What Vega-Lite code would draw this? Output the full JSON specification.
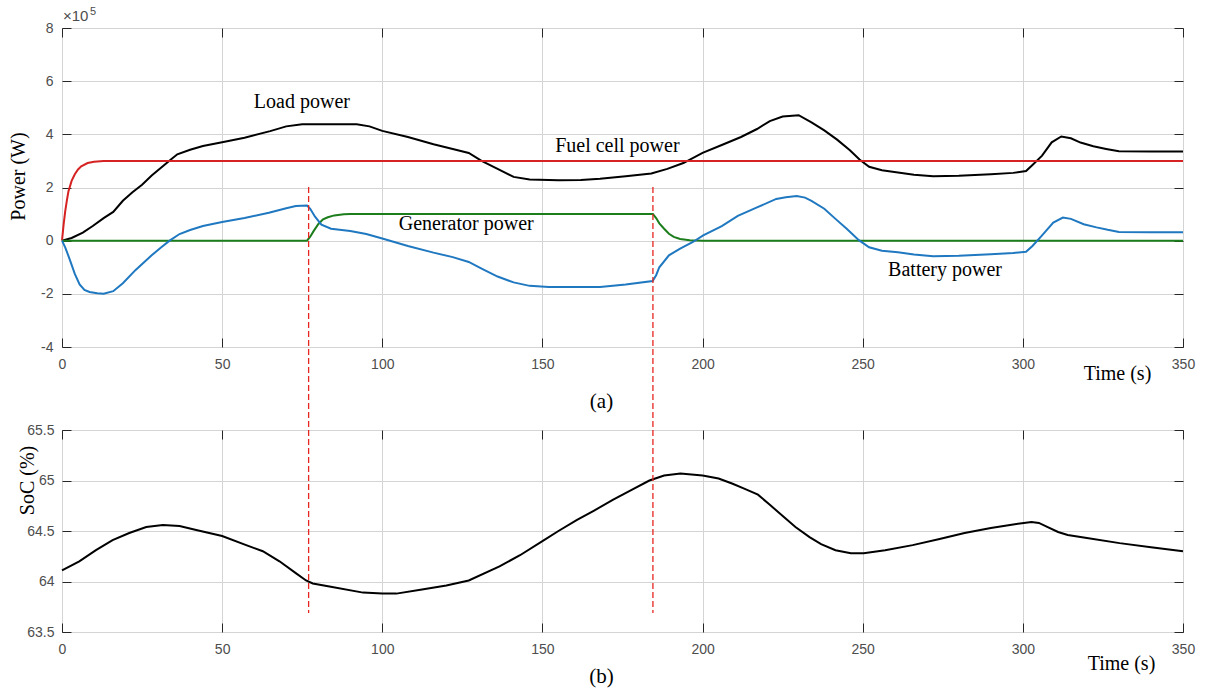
{
  "$schema": "https://vega.github.io/schema/vega-lite/v6.json",
  "padding": {"left": 7, "top": 5, "right": 6, "bottom": 2},
  "background": "white",
  "config": {
    "view": {"stroke": "#262626", "strokeWidth": 1},
    "axis": {
      "domain": false,
      "labelFlush": false,
      "gridColor": "#d4d4d4",
      "gridWidth": 1,
      "tickColor": "#262626",
      "tickWidth": 1,
      "tickSize": -9,
      "labelFont": "Liberation Sans",
      "labelFontSize": 14,
      "labelColor": "#4d4d4d",
      "titleFont": "Liberation Serif",
      "titleFontSize": 20,
      "titleFontWeight": "normal",
      "titleColor": "#000000"
    }
  },
  "datasets": {
    "power": [
      {"s": "Load", "t": 0, "p": 0}, {"s": "Load", "t": 3, "p": 10000}, {"s": "Load", "t": 6.5, "p": 30000}, {"s": "Load", "t": 9.6, "p": 55000}, {"s": "Load", "t": 13, "p": 85000}, {"s": "Load", "t": 16, "p": 108000}, {"s": "Load", "t": 19, "p": 150000}, {"s": "Load", "t": 22, "p": 182000}, {"s": "Load", "t": 25, "p": 210000}, {"s": "Load", "t": 28, "p": 245000}, {"s": "Load", "t": 31, "p": 275000}, {"s": "Load", "t": 34, "p": 305000}, {"s": "Load", "t": 36, "p": 325000}, {"s": "Load", "t": 40, "p": 342000}, {"s": "Load", "t": 44, "p": 356000}, {"s": "Load", "t": 50, "p": 370000}, {"s": "Load", "t": 57, "p": 387000}, {"s": "Load", "t": 65, "p": 412000}, {"s": "Load", "t": 70, "p": 430000}, {"s": "Load", "t": 75, "p": 438000}, {"s": "Load", "t": 80, "p": 438000}, {"s": "Load", "t": 92, "p": 438000}, {"s": "Load", "t": 96, "p": 430000}, {"s": "Load", "t": 100, "p": 413000}, {"s": "Load", "t": 108, "p": 390000}, {"s": "Load", "t": 116, "p": 363000}, {"s": "Load", "t": 122, "p": 345000}, {"s": "Load", "t": 127, "p": 330000}, {"s": "Load", "t": 131, "p": 300000}, {"s": "Load", "t": 136, "p": 270000}, {"s": "Load", "t": 141, "p": 240000}, {"s": "Load", "t": 146, "p": 230000}, {"s": "Load", "t": 155, "p": 227000}, {"s": "Load", "t": 162, "p": 228000}, {"s": "Load", "t": 168, "p": 233000}, {"s": "Load", "t": 176, "p": 242000}, {"s": "Load", "t": 184, "p": 253000}, {"s": "Load", "t": 189, "p": 270000}, {"s": "Load", "t": 194, "p": 292000}, {"s": "Load", "t": 200, "p": 330000}, {"s": "Load", "t": 206, "p": 360000}, {"s": "Load", "t": 212, "p": 390000}, {"s": "Load", "t": 217, "p": 420000}, {"s": "Load", "t": 221, "p": 450000}, {"s": "Load", "t": 225, "p": 467000}, {"s": "Load", "t": 230, "p": 472000}, {"s": "Load", "t": 234, "p": 445000}, {"s": "Load", "t": 238, "p": 415000}, {"s": "Load", "t": 242, "p": 380000}, {"s": "Load", "t": 246, "p": 340000}, {"s": "Load", "t": 249, "p": 305000}, {"s": "Load", "t": 252, "p": 278000}, {"s": "Load", "t": 256, "p": 265000}, {"s": "Load", "t": 261, "p": 256000}, {"s": "Load", "t": 266, "p": 248000}, {"s": "Load", "t": 272, "p": 242000}, {"s": "Load", "t": 280, "p": 244000}, {"s": "Load", "t": 290, "p": 250000}, {"s": "Load", "t": 297, "p": 255000}, {"s": "Load", "t": 301, "p": 262000}, {"s": "Load", "t": 303, "p": 285000}, {"s": "Load", "t": 306, "p": 320000}, {"s": "Load", "t": 309, "p": 370000}, {"s": "Load", "t": 312, "p": 392000}, {"s": "Load", "t": 315, "p": 385000}, {"s": "Load", "t": 318, "p": 369000}, {"s": "Load", "t": 322, "p": 355000}, {"s": "Load", "t": 326, "p": 345000}, {"s": "Load", "t": 330, "p": 336000}, {"s": "Load", "t": 340, "p": 335000}, {"s": "Load", "t": 350, "p": 335000},
      {"s": "Fuel cell", "t": 0, "p": 0}, {"s": "Fuel cell", "t": 0.5, "p": 60000}, {"s": "Fuel cell", "t": 1, "p": 110000}, {"s": "Fuel cell", "t": 1.5, "p": 150000}, {"s": "Fuel cell", "t": 2, "p": 185000}, {"s": "Fuel cell", "t": 3, "p": 225000}, {"s": "Fuel cell", "t": 4, "p": 250000}, {"s": "Fuel cell", "t": 5, "p": 268000}, {"s": "Fuel cell", "t": 6, "p": 280000}, {"s": "Fuel cell", "t": 8, "p": 292000}, {"s": "Fuel cell", "t": 10, "p": 297000}, {"s": "Fuel cell", "t": 13, "p": 300000}, {"s": "Fuel cell", "t": 350, "p": 300000},
      {"s": "Generator", "t": 0, "p": 0}, {"s": "Generator", "t": 76.5, "p": 0}, {"s": "Generator", "t": 77.5, "p": 15000}, {"s": "Generator", "t": 78.5, "p": 35000}, {"s": "Generator", "t": 80, "p": 62000}, {"s": "Generator", "t": 81.5, "p": 80000}, {"s": "Generator", "t": 83, "p": 88000}, {"s": "Generator", "t": 85, "p": 95000}, {"s": "Generator", "t": 88, "p": 99000}, {"s": "Generator", "t": 90, "p": 100000}, {"s": "Generator", "t": 184.5, "p": 100000}, {"s": "Generator", "t": 185.5, "p": 85000}, {"s": "Generator", "t": 186.5, "p": 65000}, {"s": "Generator", "t": 188, "p": 45000}, {"s": "Generator", "t": 189.5, "p": 26000}, {"s": "Generator", "t": 191, "p": 14000}, {"s": "Generator", "t": 193, "p": 6000}, {"s": "Generator", "t": 196, "p": 2000}, {"s": "Generator", "t": 200, "p": 0}, {"s": "Generator", "t": 350, "p": 0},
      {"s": "Battery", "t": 0, "p": 0}, {"s": "Battery", "t": 1, "p": -25000}, {"s": "Battery", "t": 2.4, "p": -70000}, {"s": "Battery", "t": 4, "p": -125000}, {"s": "Battery", "t": 5.5, "p": -165000}, {"s": "Battery", "t": 7, "p": -185000}, {"s": "Battery", "t": 8.6, "p": -193000}, {"s": "Battery", "t": 11, "p": -198000}, {"s": "Battery", "t": 13, "p": -200000}, {"s": "Battery", "t": 16, "p": -190000}, {"s": "Battery", "t": 19, "p": -160000}, {"s": "Battery", "t": 23, "p": -110000}, {"s": "Battery", "t": 28, "p": -55000}, {"s": "Battery", "t": 31, "p": -25000}, {"s": "Battery", "t": 33.6, "p": 0}, {"s": "Battery", "t": 36.7, "p": 25000}, {"s": "Battery", "t": 40, "p": 40000}, {"s": "Battery", "t": 44, "p": 55000}, {"s": "Battery", "t": 50, "p": 70000}, {"s": "Battery", "t": 57, "p": 85000}, {"s": "Battery", "t": 64.6, "p": 105000}, {"s": "Battery", "t": 70, "p": 122000}, {"s": "Battery", "t": 73, "p": 130000}, {"s": "Battery", "t": 76.5, "p": 132000}, {"s": "Battery", "t": 77.5, "p": 120000}, {"s": "Battery", "t": 79, "p": 90000}, {"s": "Battery", "t": 81, "p": 60000}, {"s": "Battery", "t": 84, "p": 45000}, {"s": "Battery", "t": 90, "p": 36000}, {"s": "Battery", "t": 95, "p": 25000}, {"s": "Battery", "t": 100, "p": 8000}, {"s": "Battery", "t": 108, "p": -20000}, {"s": "Battery", "t": 116, "p": -45000}, {"s": "Battery", "t": 122, "p": -62000}, {"s": "Battery", "t": 127, "p": -80000}, {"s": "Battery", "t": 131, "p": -105000}, {"s": "Battery", "t": 136, "p": -135000}, {"s": "Battery", "t": 141, "p": -157000}, {"s": "Battery", "t": 146, "p": -170000}, {"s": "Battery", "t": 152, "p": -174000}, {"s": "Battery", "t": 160, "p": -174000}, {"s": "Battery", "t": 168, "p": -174000}, {"s": "Battery", "t": 176, "p": -165000}, {"s": "Battery", "t": 184.4, "p": -152000}, {"s": "Battery", "t": 185.5, "p": -130000}, {"s": "Battery", "t": 186.5, "p": -100000}, {"s": "Battery", "t": 189.5, "p": -55000}, {"s": "Battery", "t": 193, "p": -30000}, {"s": "Battery", "t": 197, "p": -5000}, {"s": "Battery", "t": 200.2, "p": 20000}, {"s": "Battery", "t": 206, "p": 55000}, {"s": "Battery", "t": 211, "p": 93000}, {"s": "Battery", "t": 217, "p": 125000}, {"s": "Battery", "t": 223, "p": 157000}, {"s": "Battery", "t": 226, "p": 163000}, {"s": "Battery", "t": 229.4, "p": 168000}, {"s": "Battery", "t": 232, "p": 162000}, {"s": "Battery", "t": 234, "p": 150000}, {"s": "Battery", "t": 238, "p": 120000}, {"s": "Battery", "t": 241.5, "p": 82000}, {"s": "Battery", "t": 245, "p": 45000}, {"s": "Battery", "t": 248.8, "p": 2000}, {"s": "Battery", "t": 252, "p": -25000}, {"s": "Battery", "t": 256, "p": -38000}, {"s": "Battery", "t": 261, "p": -44000}, {"s": "Battery", "t": 266, "p": -52000}, {"s": "Battery", "t": 272, "p": -59000}, {"s": "Battery", "t": 280, "p": -57000}, {"s": "Battery", "t": 290, "p": -51000}, {"s": "Battery", "t": 297, "p": -46000}, {"s": "Battery", "t": 301, "p": -42000}, {"s": "Battery", "t": 303, "p": -20000}, {"s": "Battery", "t": 306, "p": 20000}, {"s": "Battery", "t": 309.5, "p": 68000}, {"s": "Battery", "t": 312.5, "p": 87000}, {"s": "Battery", "t": 315, "p": 82000}, {"s": "Battery", "t": 319, "p": 62000}, {"s": "Battery", "t": 323, "p": 50000}, {"s": "Battery", "t": 326.5, "p": 41000}, {"s": "Battery", "t": 330, "p": 33000}, {"s": "Battery", "t": 340, "p": 32000}, {"s": "Battery", "t": 350, "p": 32000}
    ],
    "labels": [
      {"t": 74.9, "p": 520000, "label": "Load power"},
      {"t": 173.4, "p": 356000, "label": "Fuel cell power"},
      {"t": 126.2, "p": 62000, "label": "Generator power"},
      {"t": 275.7, "p": -110000, "label": "Battery power"}
    ],
    "mult": [{"t": 0, "p": 800000, "base": "×10", "exp": "5"}],
    "switch": [
      {"t": 77, "top": 67.906, "bottom": 63.688},
      {"t": 184.5, "top": 67.906, "bottom": 63.688}
    ],
    "soc": [
      {"t": 0, "soc": 64.11}, {"t": 5.4, "soc": 64.2}, {"t": 10.6, "soc": 64.31}, {"t": 15.8, "soc": 64.41}, {"t": 21, "soc": 64.48}, {"t": 26.3, "soc": 64.54}, {"t": 31.5, "soc": 64.56}, {"t": 36.7, "soc": 64.55}, {"t": 41.9, "soc": 64.51}, {"t": 50, "soc": 64.45}, {"t": 57.5, "soc": 64.36}, {"t": 62.7, "soc": 64.3}, {"t": 67.9, "soc": 64.2}, {"t": 73.1, "soc": 64.08}, {"t": 76.2, "soc": 64.01}, {"t": 78.3, "soc": 63.98}, {"t": 83.5, "soc": 63.95}, {"t": 94, "soc": 63.89}, {"t": 100, "soc": 63.88}, {"t": 104.4, "soc": 63.88}, {"t": 112.4, "soc": 63.92}, {"t": 120, "soc": 63.96}, {"t": 127, "soc": 64.01}, {"t": 136.6, "soc": 64.15}, {"t": 143, "soc": 64.26}, {"t": 150, "soc": 64.4}, {"t": 155, "soc": 64.5}, {"t": 160.8, "soc": 64.61}, {"t": 166, "soc": 64.7}, {"t": 172.1, "soc": 64.81}, {"t": 178, "soc": 64.91}, {"t": 183.4, "soc": 65.0}, {"t": 188, "soc": 65.05}, {"t": 193.1, "soc": 65.07}, {"t": 200, "soc": 65.05}, {"t": 205, "soc": 65.02}, {"t": 209.2, "soc": 64.97}, {"t": 213, "soc": 64.92}, {"t": 217.3, "soc": 64.86}, {"t": 221, "soc": 64.76}, {"t": 225.3, "soc": 64.64}, {"t": 229, "soc": 64.54}, {"t": 233.4, "soc": 64.44}, {"t": 237, "soc": 64.37}, {"t": 241.5, "soc": 64.31}, {"t": 246.3, "soc": 64.28}, {"t": 250.3, "soc": 64.28}, {"t": 257, "soc": 64.31}, {"t": 265.6, "soc": 64.36}, {"t": 274, "soc": 64.42}, {"t": 281.8, "soc": 64.48}, {"t": 290, "soc": 64.53}, {"t": 296, "soc": 64.56}, {"t": 300.3, "soc": 64.58}, {"t": 302.7, "soc": 64.59}, {"t": 305, "soc": 64.58}, {"t": 307.6, "soc": 64.54}, {"t": 311, "soc": 64.49}, {"t": 314, "soc": 64.46}, {"t": 320, "soc": 64.43}, {"t": 330.2, "soc": 64.38}, {"t": 340, "soc": 64.34}, {"t": 350, "soc": 64.3}
    ]
  },
  "bounds": "flush",
  "spacing": 83,
  "vconcat": [
    {
      "width": 1121,
      "height": 319,
      "title": {"text": "(a)", "orient": "bottom", "anchor": "middle", "font": "Liberation Serif", "fontSize": 21, "fontWeight": "normal", "color": "#000000", "offset": 8, "dx": -21},
      "layer": [
        {
          "data": {"name": "power"},
          "mark": {"type": "line", "strokeWidth": 2},
          "encoding": {
            "x": {"field": "t", "type": "quantitative", "scale": {"domain": [0, 350], "nice": false},
              "axis": {"orient": "bottom", "values": [0, 50, 100, 150, 200, 250, 300, 350], "grid": true, "labelPadding": 19, "title": "Time (s)", "titleX": 1055, "titleY": 26, "titleBaseline": "middle", "titleAlign": "center"}},
            "y": {"field": "p", "type": "quantitative", "scale": {"domain": [-400000, 800000], "nice": false},
              "axis": {"orient": "left", "values": [-400000, -200000, 0, 200000, 400000, 600000, 800000], "labelExpr": "datum.value / 100000", "grid": true, "labelPadding": 18, "title": "Power (W)", "titleX": -44, "titleY": 148, "titleBaseline": "middle", "titleAlign": "center", "titleAngle": -90}},
            "color": {"field": "s", "type": "nominal", "scale": {"domain": ["Load", "Fuel cell", "Generator", "Battery"], "range": ["#000000", "#d62222", "#1b7d1b", "#1f78c0"]}, "legend": null}
          }
        },
        {
          "data": {"name": "labels"},
          "mark": {"type": "text", "font": "Liberation Serif", "fontSize": 20, "color": "#000000", "align": "center", "baseline": "middle"},
          "encoding": {
            "x": {"field": "t", "type": "quantitative", "scale": {"domain": [0, 350], "nice": false},
              "axis": {"orient": "top", "values": [0, 50, 100, 150, 200, 250, 300, 350], "labels": false, "grid": false, "title": null}},
            "y": {"field": "p", "type": "quantitative", "scale": {"domain": [-400000, 800000], "nice": false},
              "axis": {"orient": "right", "values": [-400000, -200000, 0, 200000, 400000, 600000, 800000], "labels": false, "grid": false, "title": null}},
            "text": {"field": "label"}
          }
        },
        {
          "data": {"name": "mult"},
          "mark": {"type": "text", "font": "Liberation Sans", "fontSize": 15, "color": "#4d4d4d", "align": "left", "baseline": "bottom", "dx": 1, "dy": -4},
          "encoding": {
            "x": {"field": "t", "type": "quantitative", "axis": null},
            "y": {"field": "p", "type": "quantitative", "axis": null},
            "text": {"field": "base"}
          }
        },
        {
          "data": {"name": "mult"},
          "mark": {"type": "text", "font": "Liberation Sans", "fontSize": 11, "color": "#4d4d4d", "align": "left", "baseline": "bottom", "dx": 28, "dy": -11},
          "encoding": {
            "x": {"field": "t", "type": "quantitative", "axis": null},
            "y": {"field": "p", "type": "quantitative", "axis": null},
            "text": {"field": "exp"}
          }
        }
      ],
      "resolve": {"axis": {"x": "independent", "y": "independent"}}
    },
    {
      "width": 1121,
      "height": 202,
      "title": {"text": "(b)", "orient": "bottom", "anchor": "middle", "font": "Liberation Serif", "fontSize": 21, "fontWeight": "normal", "color": "#000000", "offset": -7, "dx": -21},
      "layer": [
        {
          "data": {"name": "soc"},
          "mark": {"type": "line", "strokeWidth": 2, "color": "#000000"},
          "encoding": {
            "x": {"field": "t", "type": "quantitative", "scale": {"domain": [0, 350], "nice": false},
              "axis": {"orient": "bottom", "values": [0, 50, 100, 150, 200, 250, 300, 350], "grid": true, "labelPadding": 19, "title": "Time (s)", "titleX": 1059, "titleY": 31, "titleBaseline": "middle", "titleAlign": "center"}},
            "y": {"field": "soc", "type": "quantitative", "scale": {"domain": [63.5, 65.5], "nice": false, "zero": false},
              "axis": {"orient": "left", "values": [63.5, 64, 64.5, 65, 65.5], "format": ".1~f", "grid": true, "labelPadding": 17, "title": "SoC (%)", "titleX": -35, "titleY": 50, "titleBaseline": "middle", "titleAlign": "center", "titleAngle": -90}}
          }
        },
        {
          "data": {"name": "soc"},
          "mark": {"type": "point", "opacity": 0},
          "encoding": {
            "x": {"field": "t", "type": "quantitative", "scale": {"domain": [0, 350], "nice": false},
              "axis": {"orient": "top", "values": [0, 50, 100, 150, 200, 250, 300, 350], "labels": false, "grid": false, "title": null}},
            "y": {"field": "soc", "type": "quantitative", "scale": {"domain": [63.5, 65.5], "nice": false, "zero": false},
              "axis": {"orient": "right", "values": [63.5, 64, 64.5, 65, 65.5], "labels": false, "grid": false, "title": null}}
          }
        },
        {
          "data": {"name": "switch"},
          "mark": {"type": "rule", "color": "#e8251f", "strokeDash": [6, 3], "strokeWidth": 1.3},
          "encoding": {
            "x": {"field": "t", "type": "quantitative", "axis": null},
            "y": {"field": "top", "type": "quantitative", "axis": null},
            "y2": {"field": "bottom"}
          }
        }
      ],
      "resolve": {"axis": {"x": "independent", "y": "independent"}}
    }
  ]
}
